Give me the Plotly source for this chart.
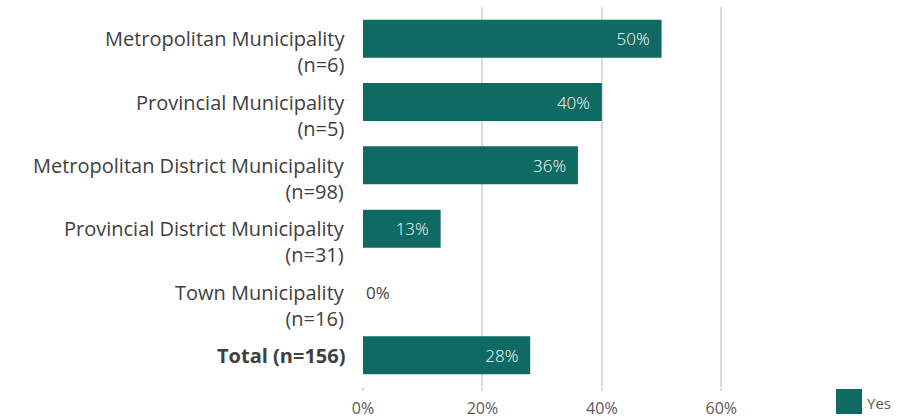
import plotly.graph_objects as go

# Share of municipalities answering "Yes", by municipality type
categories = [
    "Metropolitan Municipality",
    "Provincial Municipality",
    "Metropolitan District Municipality",
    "Provincial District Municipality",
    "Town Municipality",
    "Total",
]
sample_sizes = [6, 5, 98, 31, 16, 156]
yes_share = [0.50, 0.40, 0.36, 0.13, 0.00, 0.28]
x_ticks = [0.0, 0.2, 0.4, 0.6]
legend_label = "Yes"

BAR_COLOR = "#0e6a63"
TEXT_COLOR = "#404040"
GRID_COLOR = "#d9d9d9"
FONT = "Open Sans, Noto Sans, sans-serif"

W, H = 897, 418
M_L, M_R, M_T, M_B = 363, 116, 7, 31
X_MAX = 0.70

y_keys = [f"{c} (n={n})" for c, n in zip(categories, sample_sizes)]
value_text = [f"{v:.0%}\u00a0\u00a0" if v > 0 else f"{v:.0%}" for v in yes_share]
text_pos = ["inside" if v > 0 else "outside" for v in yes_share]

fig = go.Figure(
    go.Bar(
        x=yes_share,
        y=y_keys,
        orientation="h",
        width=0.6,
        marker=dict(color=BAR_COLOR, line=dict(width=0)),
        text=value_text,
        textposition=text_pos,
        insidetextanchor="end",
        insidetextfont=dict(size=17, color="white", family=FONT, weight=300),
        outsidetextfont=dict(size=17, color=TEXT_COLOR, family=FONT, weight=400),
        constraintext="none",
        cliponaxis=False,
        name=legend_label,
        showlegend=False,
        hoverinfo="skip",
    )
)

# Category labels, right-aligned against the axis
annotations = []
for key, cat, n in zip(y_keys, categories, sample_sizes):
    if cat == "Total":
        label, shift = f"<b>{cat} (n={n})</b>", 0
    else:
        label, shift = f"{cat}<br>(n={n})", -13
    annotations.append(
        dict(
            x=0, xref="paper", y=key, yref="y",
            text=label, showarrow=False,
            xanchor="right", yanchor="middle", align="right",
            xshift=-16, yshift=shift,
            font=dict(size=20, color=TEXT_COLOR, family=FONT),
        )
    )

# Legend entry drawn as a swatch plus label in the lower right corner
plot_w = W - M_L - M_R
plot_h = H - M_T - M_B
def px_x(px):
    return (px - M_L) / plot_w
def px_y(py):
    return (H - M_B - py) / plot_h

shapes = [
    dict(
        type="rect", xref="paper", yref="paper",
        x0=px_x(836), x1=px_x(862), y0=px_y(414), y1=px_y(389),
        fillcolor=BAR_COLOR, line=dict(width=0), layer="above",
    )
]
annotations.append(
    dict(
        x=px_x(865), xref="paper", y=px_y(403), yref="paper",
        text=legend_label, showarrow=False, xanchor="left", yanchor="middle",
        font=dict(size=15, color="#595959", family=FONT),
    )
)

fig.update_layout(
    width=W, height=H,
    margin=dict(l=M_L, r=M_R, t=M_T, b=M_B, pad=0, autoexpand=False),
    paper_bgcolor="white", plot_bgcolor="white",
    font=dict(family=FONT, color=TEXT_COLOR),
    bargap=0.4,
    annotations=annotations,
    shapes=shapes,
    showlegend=False,
)
fig.update_xaxes(
    range=[0, X_MAX],
    tickvals=x_ticks,
    tickformat=".0%",
    showgrid=True, gridcolor=GRID_COLOR, gridwidth=2,
    zeroline=False, showline=False,
    ticks="outside", ticklen=3, tickwidth=2, tickcolor=GRID_COLOR,
    tickfont=dict(size=16, color="#595959", family=FONT),
    ticklabelstandoff=4,
    automargin=False,
    fixedrange=True,
)
fig.update_yaxes(
    categoryorder="array", categoryarray=y_keys,
    range=[len(y_keys) - 0.5, -0.5],
    showticklabels=False, showgrid=False, zeroline=False, showline=False,
    ticks="",
    automargin=False,
    fixedrange=True,
)

fig.write_html("out.html", config={"displayModeBar": False})
